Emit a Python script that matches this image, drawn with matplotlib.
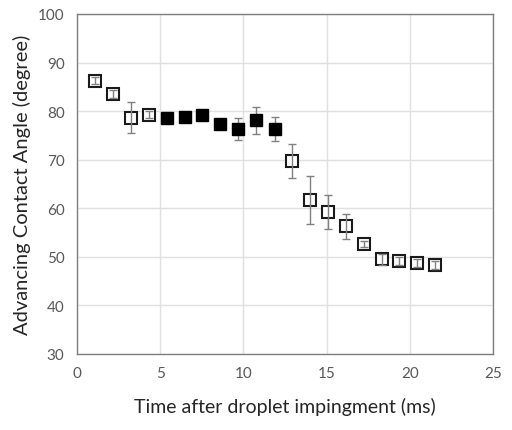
import matplotlib.pyplot as plt
import numpy as np

# open squares (before / after the plateau)
t_open = [1.1, 2.16, 3.26, 4.34, 12.93, 13.98, 15.08, 16.14, 17.23, 18.3, 19.35, 20.43, 21.5]
a_open = [86.3, 83.6, 78.6, 79.3, 69.7, 61.7, 59.2, 56.3, 52.6, 49.5, 49.1, 48.8, 48.3]
e_open = [0.8, 0.8, 3.2, 0.8, 3.5, 5.0, 3.5, 2.6, 0.6, 1.1, 0.8, 0.8, 0.8]

# filled squares (plateau)
t_fill = [5.38, 6.48, 7.53, 8.6, 9.7, 10.76, 11.88]
a_fill = [78.5, 78.8, 79.3, 77.4, 76.3, 78.1, 76.3]
e_fill = [0.5, 0.5, 0.5, 0.8, 2.3, 2.8, 2.4]

plt.rcParams['font.family'] = ['Lato', 'DejaVu Sans']

fig = plt.figure(figsize=(5.12, 4.31), dpi=100)
ax = fig.add_axes([77/512, 1 - 355/431, (493 - 77)/512, (355 - 15)/431])

ax.errorbar(t_fill, a_fill, yerr=e_fill, fmt='none', ecolor='#808080',
            elinewidth=1, capsize=3, capthick=1, zorder=3)
ax.plot(t_fill, a_fill, 's', color='black', markersize=8.5, zorder=4)

ax.plot(t_open, a_open, 's', markerfacecolor='white', markeredgecolor='#1a1a1a',
        markeredgewidth=1.5, markersize=8, zorder=4)
ax.errorbar(t_open, a_open, yerr=e_open, fmt='none', ecolor='#808080',
            elinewidth=1, capsize=3, capthick=1, zorder=5)

ax.set_xlim(0, 25)
ax.set_ylim(30, 100)
ax.set_xticks(np.arange(0, 26, 5))
ax.set_yticks(np.arange(30, 101, 10))
ax.grid(True, color='#e0e0e0', linewidth=1)
ax.set_axisbelow(True)
for s in ax.spines.values():
    s.set_color('#7f7f7f')
    s.set_linewidth(1)
ax.tick_params(length=0, labelsize=11, labelcolor='#595959', pad=9)

ax.set_xlabel('Time after droplet impingment (ms)', fontsize=14, color='#262626', labelpad=12)
ax.set_ylabel('Advancing Contact Angle (degree)', fontsize=14.5, color='#262626', labelpad=5)

fig.savefig('out.png', dpi=100)
